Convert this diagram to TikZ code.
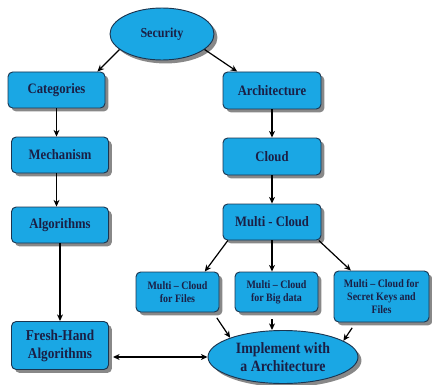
\documentclass[tikz,border=0pt]{standalone}
\usepackage{fontspec}
\setmainfont{Liberation Serif}[FakeStretch=0.88]
\usetikzlibrary{arrows.meta,shadows,shapes.geometric}
\definecolor{boxfill}{HTML}{1AA7E4}
\definecolor{boxline}{HTML}{1B3550}
\definecolor{ink}{HTML}{1A1F45}
\tikzset{
  base/.style={fill=boxfill, draw=boxline, line width=0.7pt, text=ink,
    font=\bfseries\fontsize{10.8}{12}\selectfont, align=center, inner sep=0pt,
    drop shadow={shadow xshift=2.6pt, shadow yshift=-2.6pt, fill=black!55, opacity=0.85}},
  stepbox/.style={base, rectangle, rounded corners=3.5pt},
  smallbox/.style={stepbox, font=\bfseries\fontsize{8.5}{10}\selectfont},
  oval/.style={base, ellipse},
  arr/.style={-{Stealth[length=5pt,width=4.5pt]}, line width=0.9pt, black},
  darr/.style={{Stealth[length=5pt,width=4.5pt]}-{Stealth[length=5pt,width=4.5pt]}, line width=0.9pt, black}
}
\begin{document}
\begin{tikzpicture}[x=0.75pt,y=-0.75pt]
\useasboundingbox (0,0) rectangle (432,385);
% top of the tree
\node[oval, minimum width=78pt, minimum height=39pt, font=\bfseries\fontsize{10.3}{12}\selectfont] (sec) at (162,34) {Security};
% left branch
\node[stepbox, minimum width=72.75pt, minimum height=27pt] (cat) at (56.5,90) {Categories};
\node[stepbox, minimum width=72.75pt, minimum height=27pt] (mech) at (60,155) {Mechanism};
\node[stepbox, minimum width=72.75pt, minimum height=27pt] (alg) at (60,225) {Algorithms};
\node[stepbox, minimum width=72.75pt, minimum height=36pt, font=\bfseries\fontsize{11.3}{13.5}\selectfont] (fresh) at (60,345.5) {Fresh-Hand\\Algorithms};
% right branch
\node[stepbox, minimum width=73.5pt, minimum height=27.75pt] (arch) at (272,90.5) {Architecture};
\node[stepbox, minimum width=73.5pt, minimum height=27.75pt] (cloud) at (272,156.5) {Cloud};
\node[stepbox, minimum width=73.5pt, minimum height=27pt] (mc) at (272,222) {Multi - Cloud};
% kinds of multi-cloud
\node[smallbox, minimum width=62.25pt, minimum height=30pt] (files) at (177.5,292) {Multi -- Cloud\\for Files};
\node[smallbox, minimum width=62.25pt, minimum height=30pt] (big) at (276.5,292) {Multi -- Cloud\\for Big data};
\node[smallbox, minimum width=71.25pt, minimum height=38.25pt] (secret) at (381.5,296.5) {Multi -- Cloud for\\Secret Keys and\\Files};
% result
\node[oval, minimum width=112.5pt, minimum height=39.75pt, font=\bfseries\fontsize{11.8}{14}\selectfont] (impl) at (283,357) {Implement with\\a Architecture};
% connectors
\draw[arr] (sec.200) -- ([xshift=-6pt]cat.north east);
\draw[arr] (sec.-20) -- ([xshift=11pt]arch.north west);
\draw[arr] (cat.south) -- (cat.south |- mech.north);
\draw[arr] (mech.south -| cat.south) -- (cat.south |- alg.north);
\draw[arr] (alg.south) -- (alg.south |- fresh.north);
\draw[arr] (arch.south) -- (cloud.north);
\draw[arr] (cloud.south) -- (mc.north);
\draw[arr] ([xshift=4pt]mc.south west) -- ([xshift=-11pt]files.north east);
\draw[arr] (mc.south) -- (mc.south |- big.north);
\draw[arr] ([xshift=-2pt]mc.south east) -- ([xshift=13pt]secret.north west);
\draw[arr] ([xshift=-2pt,yshift=-4pt]files.south east) -- (impl.160);
\draw[arr] ([yshift=-5pt]mc.south |- big.south) -- (mc.south |- impl.north);
\draw[arr] ([xshift=14pt,yshift=-4pt]secret.south west) -- (impl.15);
\draw[darr] ([xshift=3pt]fresh.east |- impl.west) -- (impl.west);
\end{tikzpicture}
\end{document}
